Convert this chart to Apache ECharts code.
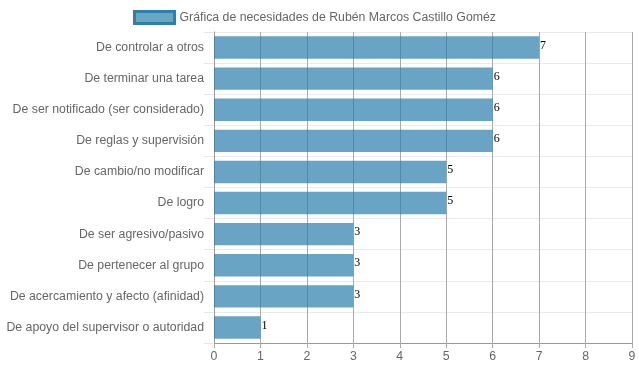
<!DOCTYPE html>
<html><head><meta charset="utf-8">
<script src="https://cdn.jsdelivr.net/npm/echarts@6/dist/echarts.min.js"></script>
<style>html,body{margin:0;padding:0;background:#fff}#c{width:639px;height:372px}</style>
</head><body><div id="c"></div>
<script>
const categories = [
  "De controlar a otros",
  "De terminar una tarea",
  "De ser notificado (ser considerado)",
  "De reglas y supervisión",
  "De cambio/no modificar",
  "De logro",
  "De ser agresivo/pasivo",
  "De pertenecer al grupo",
  "De acercamiento y afecto (afinidad)",
  "De apoyo del supervisor o autoridad"
];
const values = [7, 6, 6, 6, 5, 5, 3, 3, 3, 1];
const seriesName = "Gráfica de necesidades de Rubén Marcos Castillo Goméz";
const xTicks = { min: 0, max: 9, interval: 1 };

const FONT = 'Liberation Sans, Arial, sans-serif';
const chart = echarts.init(document.getElementById('c'), null, {renderer: 'canvas'});
chart.setOption({
  animation: false,
  textStyle: { fontFamily: FONT },
  legend: {
    top: 5, left: 128,
    itemWidth: 40, itemHeight: 12, itemGap: 6,
    icon: 'rect',
    itemStyle: { color: 'rgba(105,165,196,1)', borderColor: '#2f7fa9', borderWidth: 3 },
    textStyle: { color: '#666', fontSize: 12.3, fontFamily: FONT },
    data: [seriesName]
  },
  grid: { left: 214, right: 7, top: 32, bottom: 29, containLabel: false },
  xAxis: {
    type: 'value', min: xTicks.min, max: xTicks.max, interval: xTicks.interval,
    axisLine: { show: true, lineStyle: { color: '#999', width: 1 } },
    axisTick: { show: true, length: 5, lineStyle: { color: '#aaa' } },
    splitLine: { show: true, lineStyle: { color: '#aaa', width: 1 } },
    axisLabel: { color: '#666', fontSize: 12.3, margin: 8, fontFamily: FONT }
  },
  yAxis: {
    type: 'category', inverse: true, data: categories,
    axisLine: { show: true, lineStyle: { color: '#999', width: 1 } },
    axisTick: { show: true, length: 10, alignWithLabel: false, lineStyle: { color: '#e8e8e8' } },
    splitLine: { show: true, lineStyle: { color: '#ebebeb', width: 1 } },
    axisLabel: { color: '#666', fontSize: 12.3, margin: 10, fontFamily: FONT }
  },
  series: [{
    name: seriesName,
    type: 'bar',
    data: values,
    barWidth: '72%',
    itemStyle: { color: 'rgba(41,126,171,0.7)' },
    label: {
      show: true, position: 'right', distance: 1, offset: [0, -2],
      color: '#000', fontSize: 12, fontFamily: 'Liberation Serif, Times New Roman, serif'
    }
  }]
});
</script></body></html>
